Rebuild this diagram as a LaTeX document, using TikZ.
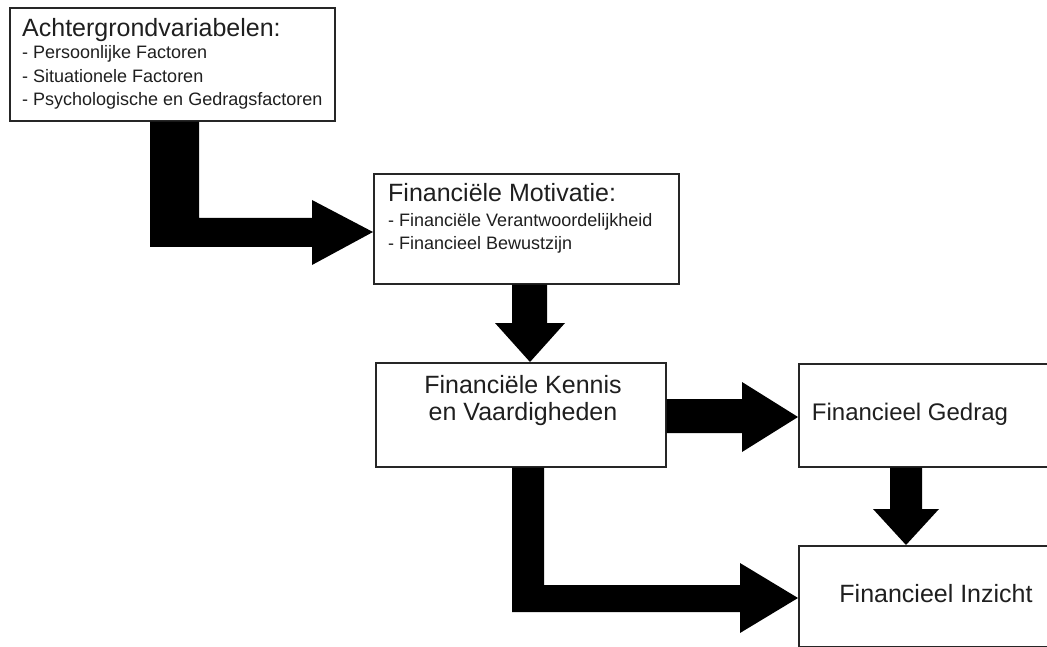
\documentclass[tikz,border=0pt]{standalone}
\usepackage{fontspec}
\setmainfont{Liberation Sans}
\begin{document}
\begin{tikzpicture}[x=1pt,y=-1pt,
  box/.style={draw=black!85, line width=1.6pt, fill=white, inner sep=0pt, anchor=north west},
  big/.style={font=\fontsize{25}{27}\selectfont, inner sep=0pt, text=black!88},
  small/.style={font=\fontsize{18}{23.5}\selectfont, inner sep=0pt, text=black!88},
  blockarrow/.style={fill=black}]
\clip (0,0) rectangle (1047,647);
\fill[white] (0,0) rectangle (1047,647);
% boxes
\node[box, minimum width=325pt, minimum height=113pt] (b1) at (9,7) {};
\node[box, minimum width=305pt, minimum height=110pt] (b2) at (373,173) {};
\node[box, minimum width=290pt, minimum height=104pt] (b3) at (375,362) {};
\node[box, minimum width=280pt, minimum height=103pt] (b4) at (798,363) {};
\node[box, minimum width=280pt, minimum height=101pt] (b5) at (798,545) {};
% texts
\node[big, anchor=base west] (t1) at (22,37) {Achtergrondvariabelen:};
\node[small, anchor=base west] (t1a) at (22,59) {- Persoonlijke Factoren};
\node[small, anchor=base west] (t1b) at (22,83) {- Situationele Factoren};
\node[small, anchor=base west] (t1c) at (22,106) {- Psychologische en Gedragsfactoren};
\node[big, anchor=base west] (t2) at (388,202) {Financiële Motivatie:};
\node[small, anchor=base west] (t2a) at (388,227) {- Financiële Verantwoordelijkheid};
\node[small, anchor=base west] (t2b) at (388,250) {- Financieel Bewustzijn};
\node[big, anchor=base] (t3a) at (523,393) {Financiële Kennis};
\node[big, anchor=base] (t3b) at (523,420) {en Vaardigheden};
\node[big, anchor=base, font=\fontsize{24}{27}\selectfont] (t4) at (910,420) {Financieel Gedrag};
\node[big, anchor=base] (t5) at (936,602) {Financieel Inzicht};
% block arrows
\fill[blockarrow] (150,0 |- b1.south) -- (199,0 |- b1.south) -- (199,218) -- (312,218) -- (312,200)
  -- (b2.west |- 0,232) -- (312,265) -- (312,247) -- (150,247) -- cycle;
\fill[blockarrow] (512,0 |- b2.south) -- (547,0 |- b2.south) -- (547,323) -- (565,323)
  -- (b3.north -| 530,0) -- (495,323) -- (512,323) -- cycle;
\fill[blockarrow] (b3.east |- 0,399) -- (742,399) -- (742,382) -- (b4.west |- 0,417)
  -- (742,452) -- (742,433) -- (b3.east |- 0,433) -- cycle;
\fill[blockarrow] (890,0 |- b4.south) -- (922,0 |- b4.south) -- (922,509) -- (939,509)
  -- (b5.north -| 906,0) -- (873,509) -- (890,509) -- cycle;
\fill[blockarrow] (512,0 |- b3.south) -- (544,0 |- b3.south) -- (544,585) -- (740,585) -- (740,563)
  -- (b5.west |- 0,598) -- (740,633) -- (740,612) -- (512,612) -- cycle;
\end{tikzpicture}
\end{document}
